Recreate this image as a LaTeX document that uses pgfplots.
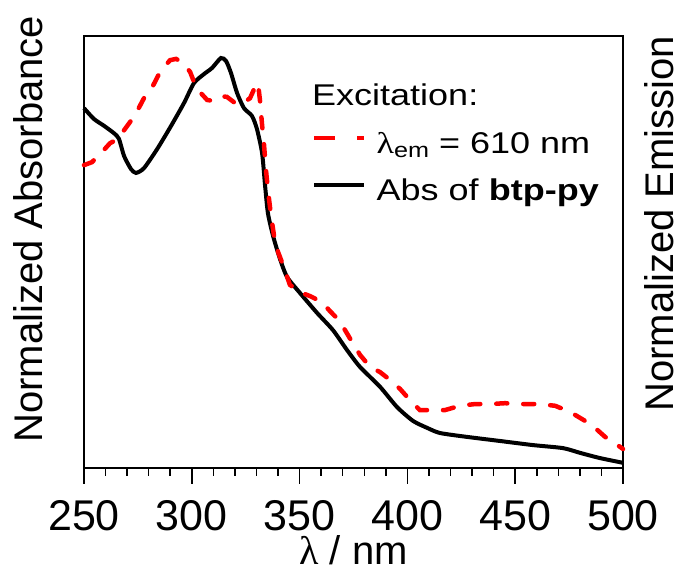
\documentclass[border=0pt]{standalone}
\usepackage{pgfplots}
\pgfplotsset{compat=1.18}
\usepackage{fontspec}
\setmainfont{Liberation Sans}
\newfontfamily\symf{Liberation Serif}
\definecolor{exred}{RGB}{255,0,0}
\begin{document}
\begin{tikzpicture}
\useasboundingbox (0,0) rectangle (680pt,577pt);
\begin{axis}[
  at={(84pt,109pt)}, anchor=south west,
  width=539pt, height=432pt, scale only axis,
  xmin=250, xmax=500, ymin=0, ymax=1,
  ytick=\empty,
  xtick={250,300,...,500},
  minor x tick num=4,
  xtick pos=bottom, tick align=outside,
  major tick length=16pt, minor tick length=8pt,
  every tick/.style={black, line width=1.5pt},
  axis line style={line width=2pt},
  /pgf/number format/assume math mode=true,
  /pgf/number format/set thousands separator={},
  xticklabel style={font=\fontsize{43}{48}\selectfont, anchor=north, inner sep=0pt, yshift=-16pt},
  xlabel={{\symf λ} / nm},
  xlabel style={font=\fontsize{40}{46}\selectfont, at={(rel axis cs:0.5,-0.2245)}, anchor=base, inner sep=0pt},
  ylabel={Normalized Absorbance},
  ylabel style={font=\fontsize{40}{46}\selectfont, at={(rel axis cs:-0.0761,0.553)}, anchor=base, inner sep=0pt},
  legend image code/.code={\draw[#1] (0pt,8pt) -- (50pt,8pt); \path (60pt,8pt);},
  legend style={at={(rel axis cs:0.423,0.785)}, anchor=north west, draw=none, fill=none, inner sep=0pt,
    font=\fontsize{30}{36}\selectfont, row sep=13pt,
    nodes={inner sep=0pt, text height=24pt, text depth=10pt}},
  legend cell align=left,
  clip=false,
]
\addplot[black, line width=4pt, smooth, tension=0.4, forget plot] coordinates {
(250.0,0.833) (254.6,0.808) (259.3,0.792) (263.9,0.775) (266.2,0.762)
(268.6,0.722) (271.8,0.692) (274.1,0.683) (277.8,0.694) (283.9,0.738)
(290.4,0.792) (296.4,0.845) (301.0,0.891) (305.7,0.912) (309.4,0.926)
(313.5,0.949) (315.9,0.942) (318.2,0.914) (321.0,0.868) (324.2,0.833)
(327.9,0.815) (330.2,0.785) (332.6,0.729) (334.0,0.653) (335.3,0.590)
(337.7,0.537) (340.9,0.484) (344.2,0.442) (350.2,0.405) (358.1,0.359)
(365.5,0.319) (372.0,0.273) (378.0,0.234) (387.3,0.188) (395.2,0.141)
(402.6,0.109) (409.1,0.093) (415.1,0.081) (427.6,0.072) (443.0,0.0625)
(458.3,0.053) (472.2,0.046) (480.1,0.035) (489.3,0.023) (500.0,0.012)
};
\addplot[exred, line width=4.5pt, line cap=round, dash pattern=on 11pt off 16pt, forget plot] coordinates {
(250.0,0.701) (253.7,0.708) (258.3,0.731) (262.1,0.752) (264.8,0.759)
(268.6,0.782) (273.7,0.817) (277.8,0.856) (281.5,0.880) (285.3,0.917)
(289.9,0.944) (292.7,0.947) (295.9,0.938) (299.2,0.917) (301.0,0.894)
(303.8,0.870) (307.1,0.852) (309.4,0.850) (313.1,0.861) (316.3,0.859)
(320.0,0.845) (323.3,0.843) (327.0,0.856) (329.8,0.887) (330.7,0.891)
(331.6,0.852) (332.6,0.794) (333.5,0.748) (334.4,0.690) (335.3,0.644)
(336.7,0.586) (338.1,0.539) (340.0,0.500) (342.3,0.470) (345.5,0.424)
(350.2,0.407) (354.8,0.398) (360.4,0.384) (364.1,0.363) (367.3,0.347)
(371.1,0.319) (374.3,0.292) (378.0,0.262) (382.7,0.234) (387.3,0.222)
(391.9,0.204) (396.6,0.183) (401.2,0.157) (405.8,0.134) (410.5,0.134)
(417.4,0.134) (424.4,0.144) (431.4,0.148) (438.3,0.148) (445.3,0.150)
(452.2,0.148) (461.5,0.148) (468.5,0.144) (475.4,0.130) (482.4,0.109)
(487.0,0.093) (491.7,0.072) (498.6,0.049) (500.0,0.044)
};
\addlegendimage{exred, line width=4.5pt, dash pattern=on 21pt off 22pt}
\addlegendentry{\scalebox{1.2}[1]{{\symf λ}\raisebox{-0.3ex}{\fontsize{21}{21}\selectfont em} = 610 nm}}
\addlegendimage{black, line width=4pt}
\addlegendentry{\scalebox{1.2}[1]{Abs of \textbf{btp-py}}}
\node[anchor=base west, inner sep=0pt, font=\fontsize{30}{36}\selectfont] at (rel axis cs:0.423,0.840) {\scalebox{1.2}[1]{Excitation:}};
\node[rotate=90, anchor=base, inner sep=0pt, font=\fontsize{40}{46}\selectfont] at (rel axis cs:1.0928,0.565) {Normalized Emission};
\end{axis}
\end{tikzpicture}
\end{document}
